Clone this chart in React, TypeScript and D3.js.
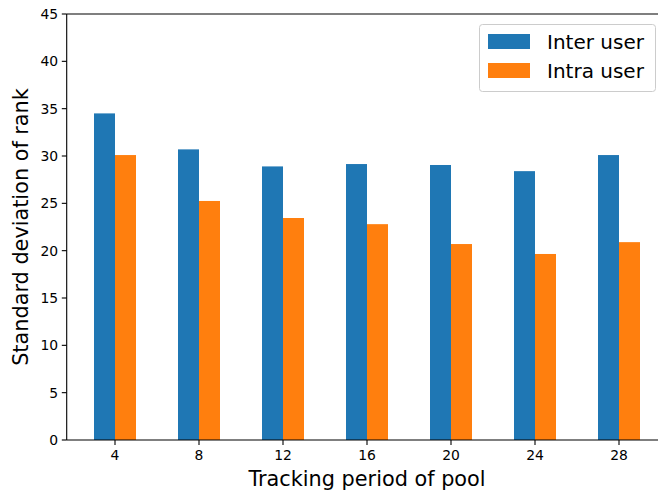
import React from "react";
import * as d3 from "d3";

// Tracking period of the pool (x positions of each group)
const periods = [4, 8, 12, 16, 20, 24, 28];
// Standard deviation of rank per period
const interUser = [34.5, 30.7, 28.9, 29.15, 29.05, 28.4, 30.1];
const intraUser = [30.1, 25.25, 23.45, 22.8, 20.7, 19.65, 20.9];
const seriesNames = ["Inter user", "Intra user"];
const seriesColors = ["#1f77b4", "#ff7f0e"];
const yTicks = [0, 5, 10, 15, 20, 25, 30, 35, 40, 45];

const W = 658;
const H = 490;
const font = "DejaVu Sans, sans-serif";

export default function App() {
  const left = 66.7;
  const top = 14;
  const bottom = 440;
  const x = d3.scaleLinear().domain([1.7, 30.3]).range([left, left + 28.6 * 21]);
  const y = d3.scaleLinear().domain([0, 45]).range([bottom, top]);
  const barW = 1;
  const series = [interUser, intraUser];

  return (
    <svg width={W} height={H} style={{ position: "absolute", left: 0, top: 0, background: "#fff" }}>
      <rect x={0} y={0} width={W} height={H} fill="#fff" />
      {series.map((vals, si) =>
        vals.map((v, i) => {
          const x0 = x(periods[i] - barW + si * barW);
          const x1 = x(periods[i] + si * barW);
          return (
            <rect
              key={`${si}-${i}`}
              x={x0}
              y={y(v)}
              width={x1 - x0}
              height={y(0) - y(v)}
              fill={seriesColors[si]}
            />
          );
        })
      )}
      {/* spines */}
      <line x1={left} x2={left} y1={top} y2={bottom} stroke="#000" strokeWidth={1.1} />
      <line x1={left} x2={W + 20} y1={bottom} y2={bottom} stroke="#000" strokeWidth={1.1} />
      <line x1={left} x2={W + 20} y1={top} y2={top} stroke="#000" strokeWidth={1.1} />
      {/* y ticks */}
      {yTicks.map((t) => (
        <g key={t}>
          <line x1={left - 4.9} x2={left} y1={y(t)} y2={y(t)} stroke="#000" strokeWidth={1.1} />
          <text
            x={left - 8.5}
            y={y(t)}
            dy="0.35em"
            textAnchor="end"
            fontFamily={font}
            fontSize={13.9}
            fill="#000"
          >
            {t}
          </text>
        </g>
      ))}
      {/* x ticks */}
      {periods.map((p) => (
        <g key={p}>
          <line x1={x(p)} x2={x(p)} y1={bottom} y2={bottom + 4.9} stroke="#000" strokeWidth={1.1} />
          <text x={x(p)} y={bottom + 20} textAnchor="middle" fontFamily={font} fontSize={13.9} fill="#000">
            {p}
          </text>
        </g>
      ))}
      <text x={367} y={485.5} textAnchor="middle" fontFamily={font} fontSize={20.8} fill="#000">
        Tracking period of pool
      </text>
      <text
        transform={`translate(28, ${(top + bottom) / 2}) rotate(-90)`}
        textAnchor="middle"
        fontFamily={font}
        fontSize={20.8}
        fill="#000"
      >
        Standard deviation of rank
      </text>
      {/* legend */}
      <g>
        <rect x={479.5} y={24.5} width={176} height={67} rx={3} fill="#fff" fillOpacity={0.8} stroke="#ccc" strokeWidth={1} />
        {seriesNames.map((n, i) => (
          <g key={n}>
            <rect x={488} y={34 + i * 29} width={42} height={15} fill={seriesColors[i]} />
            <text x={547} y={41.5 + i * 29} dy="0.35em" fontFamily={font} fontSize={20} fill="#000">
              {n}
            </text>
          </g>
        ))}
      </g>
    </svg>
  );
}
